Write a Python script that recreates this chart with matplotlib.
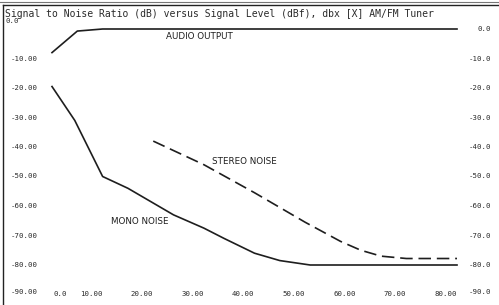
import matplotlib
matplotlib.use("Agg")
import matplotlib.pyplot as plt
from matplotlib.lines import Line2D
import matplotlib.transforms as mt

# ---- data ----
audio_x = [0, 5, 10, 80]
audio_y = [-8, -0.7, 0, 0]

mono_x = [0, 4.5, 10, 15, 20, 24, 30, 34, 40, 45, 51, 80]
mono_y = [-19.5, -31, -50, -54, -59, -63, -67.5, -71, -76, -78.5, -80, -80]

stereo_x = [20, 30, 40, 50, 57, 61, 65, 70, 80]
stereo_y = [-38, -46, -55.5, -65.5, -72, -75, -77, -77.8, -77.8]

x_ticks = [0, 10, 20, 30, 40, 50, 60, 70, 80]
x_labels = ["0.0", "10.00", "20.00", "30.00", "40.00", "50.00", "60.00", "70.00", "80.00"]
y_ticks = [0, -10, -20, -30, -40, -50, -60, -70, -80, -90]
left_labels = ["0.0", "-10.00", "-20.00", "-30.00", "-40.00", "-50.00", "-60.00", "-70.00", "-80.00", "-90.00"]
right_labels = ["0.0", "-10.0", "-20.0", "-30.0", "-40.0", "-50.0", "-60.0", "-70.0", "-80.0", "-90.0"]

title = "Signal to Noise Ratio (dB) versus Signal Level (dBf), dbx [X] AM/FM Tuner"

W, H = 499, 305
fig = plt.figure(figsize=(W / 100, H / 100), dpi=100)
fig.patch.set_facecolor("white")

ax_left, ax_right = 52, 457
ax_top, ax_bot = 29, 294.5
ax = fig.add_axes([ax_left / W, 1 - ax_bot / H, (ax_right - ax_left) / W, (ax_bot - ax_top) / H])
ax.set_xlim(0, 80)
ax.set_ylim(-90, 0)
ax.axis("off")

ink = "#1e1e1e"
ax.plot(audio_x, audio_y, color=ink, lw=1.2, clip_on=False)
ax.plot(mono_x, mono_y, color=ink, lw=1.2, clip_on=False)
ax.plot(stereo_x, stereo_y, color=ink, lw=1.2, dashes=(7.5, 3.5), clip_on=False)

lab_font = dict(family="DejaVu Sans", fontsize=6.3, color=ink)
ax.text(29.2, -2.7, "AUDIO OUTPUT", ha="center", va="center", **lab_font)
ax.text(38.0, -45, "STEREO NOISE", ha="center", va="center", **lab_font)
ax.text(17.4, -65.4, "MONO NOISE", ha="center", va="center", **lab_font)

mono = dict(family="DejaVu Sans Mono", fontsize=5.3, color="#2a2a2a")

# bottom x labels (right-aligned to the value, as printed)
for i, (v, s) in enumerate(zip(x_ticks, x_labels)):
    dx = 15 if i == 0 else 0
    tr = mt.offset_copy(ax.transData, fig=fig, x=dx * 0.72, y=0, units="points")
    ax.text(v, -90, s, ha="right", va="center", transform=tr, clip_on=False, **mono)

# left y labels
for v, s in zip(y_ticks, left_labels):
    if v == 0:
        fig.text(5 / W, 1 - 21 / H, s, ha="left", va="center", **mono)
    else:
        yy = 29 + (-v) * 2.95 - (3 if v == -90 else 0)
        fig.text(38 / W, 1 - yy / H, s, ha="right", va="center", **mono)

# right y labels
for v, s in zip(y_ticks, right_labels):
    yy = 29 + (-v) * 2.95 - (3 if v == -90 else 0)
    fig.text(491 / W, 1 - yy / H, s, ha="right", va="center", **mono)

fig.text(5 / W, 1 - 14 / H, title, ha="left", va="center",
         family="DejaVu Sans Mono", fontsize=7, color="#2a2a2a")

# scanned frame lines
fig.add_artist(Line2D([0, 1], [1 - 2 / H, 1 - 2 / H], color="#777777", lw=0.8, transform=fig.transFigure))
fig.add_artist(Line2D([3 / W, 1], [1 - 5 / H, 1 - 5 / H], color="#222222", lw=1.0, transform=fig.transFigure))
fig.add_artist(Line2D([3 / W, 3 / W], [0, 1 - 5 / H], color="#222222", lw=1.0, transform=fig.transFigure))

fig.savefig("out.png", dpi=100, facecolor="white")
